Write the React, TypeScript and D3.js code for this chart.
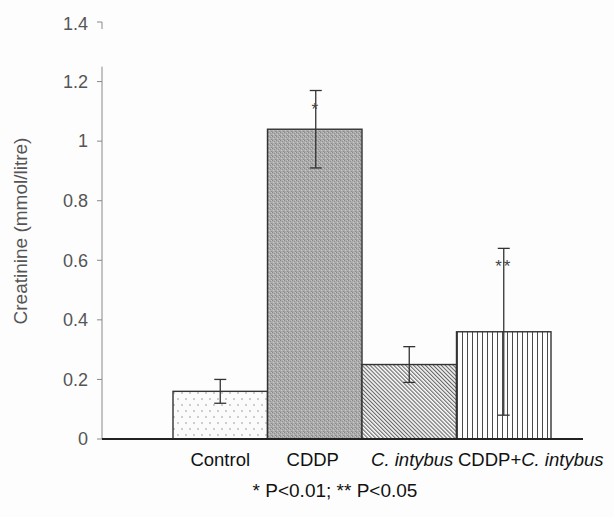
import React from "react";
import * as d3 from "d3";

// Serum creatinine by treatment group (mean ± error)
const categories = ["Control", "CDDP", "C. intybus", "CDDP+C. intybus"];
const means = [0.16, 1.04, 0.25, 0.36];
const errors = [0.04, 0.13, 0.06, 0.28];
const significance = ["", "*", "", "**"];
const yTicks = [0, 0.2, 0.4, 0.6, 0.8, 1, 1.2];
const yTop = 1.4;
const footnote = "* P<0.01; ** P<0.05";

const W = 614;
const H = 517;
const FONT = "'Liberation Sans', Arial, sans-serif";

const fills = ["url(#dots)", "url(#stipple)", "url(#diag)", "url(#vert)"];
const labelShift = [0, -2, 3, 27];

function CategoryLabel({ name }: { name: string }) {
  const parts = name.split("C. intybus");
  if (parts.length === 1) return <>{name}</>;
  return (
    <>
      {parts[0]}
      <tspan fontStyle="italic">C. intybus</tspan>
      {parts[1]}
    </>
  );
}

export default function App() {
  const y = d3.scaleLinear().domain([0, yTop]).range([439, 22]);
  const x = d3
    .scaleBand<string>()
    .domain(categories)
    .range([173, 551])
    .padding(0);
  const axisX = 102;
  const baselineEnd = 583;
  const fmt = (v: number) => d3.format("~g")(v);

  return (
    <svg
      width={W}
      height={H}
      style={{ position: "absolute", left: 0, top: 0, display: "block", background: "#fdfdfd" }}
      fontFamily={FONT}
    >
      <defs>
        <pattern id="dots" width={8} height={12} patternUnits="userSpaceOnUse">
          <rect width={8} height={12} fill="#fbfbfb" />
          <circle cx={2} cy={3} r={0.75} fill="#8a8a8a" />
          <circle cx={6} cy={9} r={0.75} fill="#8a8a8a" />
        </pattern>
        <pattern id="stipple" width={4} height={4} patternUnits="userSpaceOnUse">
          <rect width={4} height={4} fill="#adadad" />
          <rect x={0} y={0} width={1} height={1} fill="#888" />
          <rect x={2} y={1} width={1} height={1} fill="#919191" />
          <rect x={1} y={2} width={1} height={1} fill="#cacaca" />
          <rect x={3} y={3} width={1} height={1} fill="#8c8c8c" />
          <rect x={3} y={0} width={1} height={1} fill="#c4c4c4" />
          <rect x={0} y={3} width={1} height={1} fill="#9c9c9c" />
        </pattern>
        <pattern
          id="diag"
          width={2.8}
          height={10}
          patternUnits="userSpaceOnUse"
          patternTransform="rotate(-45)"
        >
          <rect width={2.8} height={10} fill="#fafafa" />
          <line x1={0.6} y1={0} x2={0.6} y2={10} stroke="#555" strokeWidth={1} />
        </pattern>
        <pattern id="vert" width={5} height={10} patternUnits="userSpaceOnUse">
          <rect width={5} height={10} fill="#fdfdfd" />
          <line x1={2.5} y1={0} x2={2.5} y2={10} stroke="#4a4a4a" strokeWidth={1} />
        </pattern>
      </defs>

      {/* y axis (broken below the top tick) */}
      <line x1={axisX} y1={y(0)} x2={axisX} y2={y(1.25)} stroke="#888" strokeWidth={1} />
      {yTicks.map((t) => (
        <g key={t}>
          <line x1={axisX - 5} x2={axisX} y1={y(t)} y2={y(t)} stroke="#888" />
          <text
            x={88}
            y={y(t)}
            dy="0.35em"
            textAnchor="end"
            fontSize={18}
            fill="#555"
          >
            {fmt(t)}
          </text>
        </g>
      ))}
      <path
        d={`M${axisX - 5},${y(yTop)}H${axisX}V${y(yTop) + 7}`}
        fill="none"
        stroke="#888"
      />
      <text x={88} y={y(yTop) + 2} dy="0.35em" textAnchor="end" fontSize={18} fill="#555">
        {fmt(yTop)}
      </text>

      <text
        transform={`translate(20,${231}) rotate(-90)`}
        textAnchor="middle"
        dy="0.35em"
        fontSize={19}
        fill="#555"
      >
        Creatinine (mmol/litre)
      </text>

      {/* bars */}
      {categories.map((c, i) => (
        <rect
          key={c}
          x={x(c)}
          y={y(means[i])}
          width={x.bandwidth()}
          height={y(0) - y(means[i])}
          fill={fills[i]}
          stroke="#333"
          strokeWidth={1.4}
        />
      ))}

      {/* error bars */}
      {categories.map((c, i) => {
        const cx = (x(c) as number) + x.bandwidth() / 2 + (i === 1 ? 1 : 0);
        const hi = y(means[i] + errors[i]);
        const lo = y(means[i] - errors[i]);
        return (
          <g key={c} stroke="#333" strokeWidth={1.3}>
            <line x1={cx} x2={cx} y1={hi} y2={lo} />
            <line x1={cx - 6} x2={cx + 6} y1={hi} y2={hi} />
            <line x1={cx - 6} x2={cx + 6} y1={lo} y2={lo} />
          </g>
        );
      })}

      {/* significance marks */}
      {categories.map((c, i) =>
        significance[i] ? (
          <text
            key={c}
            x={(x(c) as number) + x.bandwidth() / 2 + (i === 1 ? 1 : 0)}
            y={y(means[i] + errors[i]) + 24}
            textAnchor="middle"
            fontSize={17}
            fill="#444"
            letterSpacing={2}
          >
            {significance[i]}
          </text>
        ) : null
      )}

      {/* baseline */}
      <line x1={axisX} x2={baselineEnd} y1={y(0)} y2={y(0)} stroke="#222" strokeWidth={2} />

      {/* category labels */}
      {categories.map((c, i) => (
        <text
          key={c}
          x={(x(c) as number) + x.bandwidth() / 2 + labelShift[i]}
          y={466}
          textAnchor="middle"
          fontSize={18.5}
          fill="#111"
        >
          <CategoryLabel name={c} />
        </text>
      ))}

      <text x={335} y={497} textAnchor="middle" fontSize={19} fill="#111">
        {footnote}
      </text>
    </svg>
  );
}
